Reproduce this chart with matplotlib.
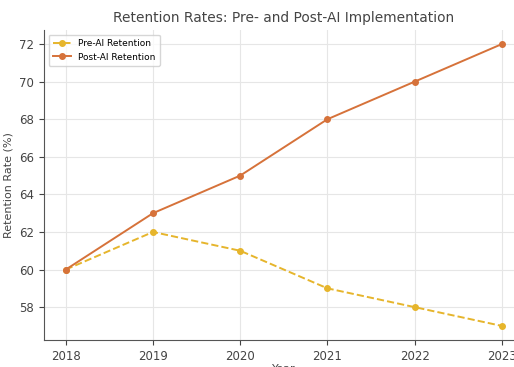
import matplotlib
matplotlib.use("Agg")
import matplotlib.pyplot as plt

## Daten
years = [2018, 2019, 2020, 2021, 2022, 2023]
pre_ai = [60, 62, 61, 59, 58, 57]
post_ai = [60, 63, 65, 68, 70, 72]

## Plot
fig = plt.figure(figsize=(5.14, 3.67), dpi=100)
ax = fig.add_axes([44 / 514, 27 / 367, 479.6 / 514, 310 / 367])

ax.plot(years, pre_ai, linestyle="--", marker="o", markersize=4, linewidth=1.4,
        color="#E6B52C", label="Pre-AI Retention")
ax.plot(years, post_ai, linestyle="-", marker="o", markersize=4, linewidth=1.4,
        color="#D6723A", label="Post-AI Retention")

ax.set_title("Retention Rates: Pre- and Post-AI Implementation", fontsize=9.9, color="#444444", pad=6)
ax.set_xlabel("Year", fontsize=8, color="#444444", labelpad=1)
ax.set_ylabel("Retention Rate (%)", fontsize=8, color="#444444")
ax.set_xticks(years)
ax.tick_params(labelsize=8.5, colors="#444444")
ax.grid(True, color="#e6e6e6", linewidth=0.8)
ax.set_axisbelow(True)
ax.spines["top"].set_visible(False)
ax.spines["right"].set_visible(False)
for s in ax.spines.values():
    s.set_color("#555555")

ax.legend(loc="upper left", fontsize=6.5, frameon=True, edgecolor="#cccccc",
          borderpad=0.5, handlelength=2)

fig.savefig("out.png", dpi=100)
